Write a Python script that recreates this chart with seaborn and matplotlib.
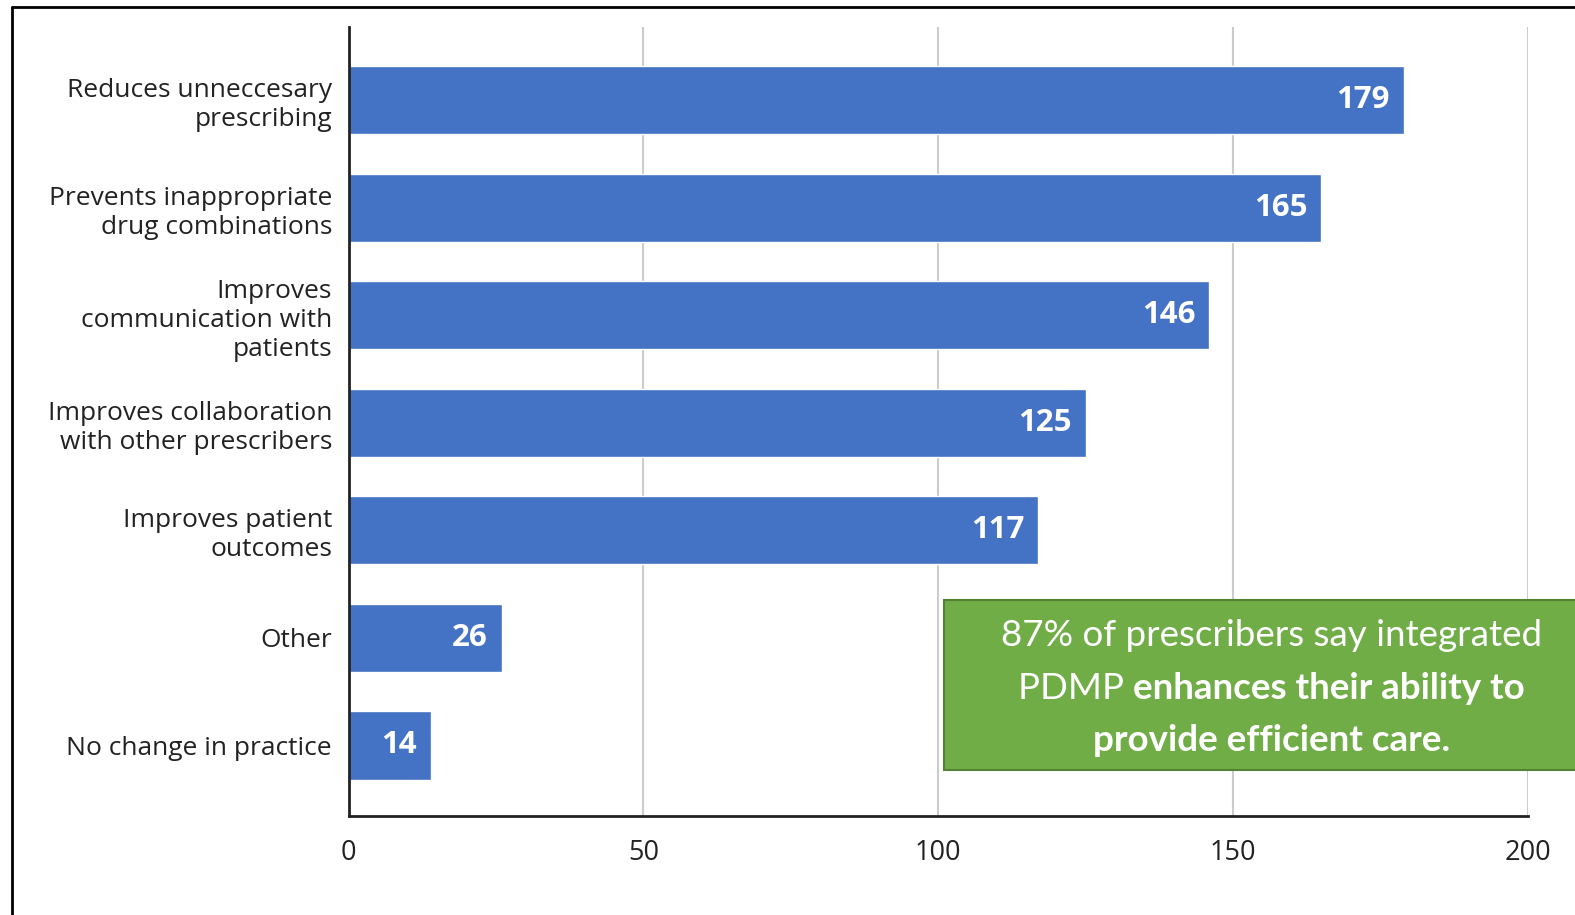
import matplotlib
matplotlib.use("Agg")
import matplotlib.pyplot as plt
import seaborn as sns
import pandas as pd
from matplotlib.lines import Line2D
from matplotlib.patches import Rectangle

categories = [
    "Reduces unneccesary\nprescribing",
    "Prevents inappropriate\ndrug combinations",
    "Improves\ncommunication with\npatients",
    "Improves collaboration\nwith other prescribers",
    "Improves patient\noutcomes",
    "Other",
    "No change in practice",
]
values = [179, 165, 146, 125, 117, 26, 14]
x_ticks = [0, 50, 100, 150, 200]

callout_line1 = "87% of prescribers say integrated"
callout_line2_regular = "PDMP "
callout_line2_bold = "enhances their ability to"
callout_line3_bold = "provide efficient care."

df = pd.DataFrame({"category": categories, "value": values})

sns.set_theme(style="white")
plt.rcParams["font.family"] = ["Open Sans", "DejaVu Sans"]

W, H = 1575.0, 915.0
k = 1575.0 / 1568.0  # convert measured (shown) px to full px


def fx(px):
    return px * k / W


def fy(py):
    return 1 - py * k / H


fig = plt.figure(figsize=(15.75, 9.15), dpi=100)
ax = fig.add_axes([fx(347), fy(812), fx(1521) - fx(347), fy(27) - fy(812)])

sns.barplot(data=df, x="value", y="category", orient="h", color="#4472C4",
            saturation=1, width=0.636, ax=ax, zorder=3)

ax.set_xlim(0, 200)
ax.set_ylim(6.654, -0.68)
ax.set_xticks(x_ticks)
ax.set_xticklabels([str(t) for t in x_ticks], fontsize=19.5, color="#222222")
ax.tick_params(axis="x", length=0, pad=17)
ax.tick_params(axis="y", length=0, pad=12)
for lbl in ax.get_yticklabels():
    lbl.set_fontsize(19)
    lbl.set_color("#222222")
    lbl.set_linespacing(1.22)
    lbl.set_horizontalalignment("right")
ax.set_xlabel("")
ax.set_ylabel("")

ax.grid(axis="x", color="#cccccc", linewidth=1.5, zorder=0)
ax.grid(axis="y", visible=False)
for s in ["top", "right"]:
    ax.spines[s].set_visible(False)
for s in ["left", "bottom"]:
    ax.spines[s].set_color("#222222")
    ax.spines[s].set_linewidth(2)
    ax.spines[s].set_zorder(4)

for i, v in enumerate(values):
    ax.annotate(str(v), xy=(v, i), xytext=(-10, 0), textcoords="offset points",
                ha="right", va="center", color="white", fontsize=22.5,
                fontweight="bold", zorder=5)

# figure frame (left and top edges)
fig.add_artist(Line2D([fx(12), fx(12)], [0, fy(7)], color="black",
                      linewidth=2, transform=fig.transFigure))
fig.add_artist(Line2D([fx(12), 1], [fy(7), fy(7)], color="black",
                      linewidth=2, transform=fig.transFigure))

# callout box
box = Rectangle((fx(940), fy(767)), 0.5, fy(597) - fy(767), transform=fig.transFigure,
                facecolor="#70AD47", edgecolor="#548235", linewidth=1.5, zorder=10)
fig.add_artist(box)

cx = fx(1266)
font_call = ["Lato", "DejaVu Sans"]
fs = 26.5
fig.text(cx, fy(633), callout_line1, ha="center", va="center", color="white",
         fontsize=fs, family=font_call, zorder=11)
fig.text(cx, fy(737), callout_line3_bold, ha="center", va="center", color="white",
         fontsize=fs, family=font_call, fontweight="bold", zorder=11)

# line 2 mixed weights
y2 = fy(685)
ta = fig.text(0, y2, callout_line2_regular, ha="left", va="center", color="white",
              fontsize=fs, family=font_call, zorder=11)
tb = fig.text(0, y2, callout_line2_bold, ha="left", va="center", color="white",
              fontsize=fs, family=font_call, fontweight="bold", zorder=11)
fig.canvas.draw()
r = fig.canvas.get_renderer()
wa = ta.get_window_extent(r).width / fig.bbox.width
wb = tb.get_window_extent(r).width / fig.bbox.width
start = cx - (wa + wb) / 2
ta.set_x(start)
tb.set_x(start + wa)

fig.savefig("out.png", dpi=100, facecolor="white")
